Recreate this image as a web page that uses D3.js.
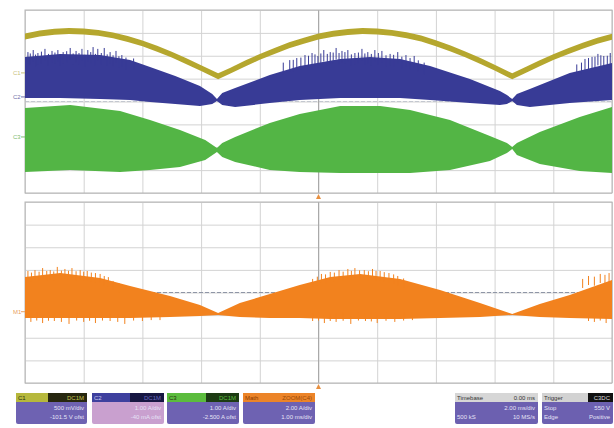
<!DOCTYPE html>
<html><head><meta charset="utf-8">
<script src="https://cdn.jsdelivr.net/npm/d3@7"></script>
<style>
body{margin:0;background:#fff;}
svg{display:block;font-family:"Liberation Sans",Arial,sans-serif;}
</style>
</head><body>
<svg id="chart" width="614" height="428"></svg>
<script>
// ---------- data (time in divisions, level in divisions) ----------
const c1Time  = [0,0.25,0.5,0.75,1,1.25,1.5,1.75,2,2.25,2.5,2.75,3,3.29,3.5,3.75,4,4.25,4.5,4.75,5,5.25,5.5,5.75,6,6.25,6.5,6.75,7,7.25,7.5,7.75,8,8.3,8.5,8.75,9,9.25,9.5,9.75,10];
const c1Level = [2.84,2.97,3.05,3.08,3.06,3.00,2.89,2.73,2.54,2.31,2.05,1.76,1.46,1.10,1.35,1.66,1.95,2.21,2.46,2.66,2.84,2.96,3.04,3.08,3.06,3.00,2.90,2.75,2.55,2.32,2.06,1.78,1.48,1.10,1.34,1.65,1.94,2.20,2.44,2.66,2.83];

const c2Time   = [0,0.60,1.28,1.79,2.13,2.56,2.98,3.19,3.27,3.36,3.58,4.17,4.68,5.37,5.88,6.39,6.90,7.58,8.09,8.21,8.30,8.38,8.60,9.28,10];
const c2Top    = [1.95,2.08,2.03,1.81,1.51,1.12,0.68,0.33,0.11,0.37,0.59,1.16,1.55,1.86,1.95,1.86,1.55,0.98,0.46,0.28,0.11,0.33,0.55,1.25,1.68];
const c2Bottom = [0.15,0.15,0.11,0.07,-0.02,-0.11,-0.20,-0.11,0.02,-0.15,-0.24,-0.07,0.07,0.15,0.15,0.15,0.07,-0.07,-0.15,-0.11,0.02,-0.15,-0.24,-0.07,0.07];
const c2SpikeTime  = [0.05,0.09,0.14,0.18,0.22,0.28,0.34,0.40,0.46,0.51,0.56,0.60,0.65,0.71,0.77,0.82,0.87,0.92,0.97,1.02,1.07,1.12,1.16,1.20,1.24,1.30,1.35,1.40,1.45,1.50,1.55,1.60,1.65,1.72,1.85,
                      4.40,4.51,4.57,4.63,4.70,4.77,4.83,4.89,4.94,4.99,5.04,5.09,5.15,5.20,5.25,5.30,5.35,5.40,5.45,5.50,5.56,5.62,5.68,5.74,5.79,5.84,5.90,5.96,6.02,6.08,6.15,6.22,6.28,6.35,6.42,6.49,6.56,6.63,6.70,6.80,
                      9.40,9.48,9.54,9.60,9.66,9.71,9.76,9.81,9.86,9.92,9.97];
const c2SpikeLevel = [2.16,2.10,2.25,2.05,2.12,2.18,2.30,2.08,2.21,2.14,2.25,2.06,2.16,2.20,2.34,2.10,2.21,2.12,2.30,2.04,2.25,2.16,2.38,2.08,2.30,2.12,2.34,2.06,2.16,2.02,2.21,1.98,2.03,1.92,1.88,
                      1.70,1.81,1.82,1.90,1.92,2.03,2.00,2.12,2.06,1.99,2.10,2.25,2.08,2.16,2.14,2.34,2.12,2.21,2.16,2.25,2.06,2.12,2.14,2.30,2.10,2.16,2.08,2.25,2.12,2.21,2.02,2.08,2.04,2.16,1.96,2.03,1.90,1.99,1.80,1.70,
                      1.62,1.70,1.86,1.90,1.95,1.96,2.08,2.02,1.99,2.00,2.12];

const c3Time   = [0,0.77,1.62,2.13,2.64,3.07,3.27,3.36,3.58,4.17,4.68,5.37,6.05,6.56,7.24,7.92,8.21,8.30,8.38,8.77,9.45,10];
const c3Top    = [-0.28,-0.15,-0.42,-0.81,-1.25,-1.68,-2.03,-1.81,-1.55,-0.94,-0.55,-0.20,-0.20,-0.37,-0.81,-1.51,-1.81,-1.99,-1.81,-1.33,-0.68,-0.24];
const c3Bottom = [-3.08,-2.99,-3.08,-2.99,-2.86,-2.56,-2.21,-2.43,-2.64,-2.99,-3.08,-3.13,-3.13,-3.13,-2.99,-2.60,-2.25,-2.08,-2.34,-2.73,-3.04,-3.13];

const m1Time   = [0,0.60,1.28,1.79,2.47,2.98,3.29,3.66,4.17,4.68,5.20,5.71,6.39,7.07,7.75,8.30,8.77,9.28,10];
const m1Top    = [0.69,0.86,0.64,0.29,-0.15,-0.55,-0.91,-0.46,-0.07,0.33,0.69,0.82,0.60,0.11,-0.46,-0.95,-0.51,-0.11,0.55];
const m1Bottom = [-1.13,-1.13,-1.13,-1.13,-1.08,-1.04,-0.99,-1.08,-1.13,-1.13,-1.17,-1.17,-1.17,-1.13,-1.08,-0.99,-1.08,-1.13,-1.17];
const m1UpTime   = [0.05,0.11,0.17,0.24,0.3,0.37,0.43,0.49,0.55,0.62,0.68,0.74,0.8,0.87,0.94,1.0,1.06,1.13,1.2,1.28,1.35,1.42,1.5,1.6,
                    4.9,4.98,5.05,5.12,5.2,5.27,5.35,5.42,5.5,5.56,5.62,5.7,5.78,5.85,5.92,5.98,6.05,6.12,6.2,6.28,6.35,6.45,
                    9.5,9.6,9.7,9.8,9.88,9.95];
const m1UpLevel  = [0.95,0.88,0.99,0.92,1.08,0.95,0.99,0.93,1.13,0.97,1.04,0.96,1.08,0.94,0.99,0.92,0.95,0.88,0.86,0.82,0.73,0.68,0.51,0.42,
                    0.60,0.70,0.82,0.80,0.91,0.88,0.99,0.92,1.04,0.96,1.08,0.98,0.99,0.94,1.04,0.95,0.95,0.90,0.86,0.80,0.73,0.62,
                    0.60,0.73,0.70,0.82,0.78,0.86];
const m1DownTime  = [0.1,0.2,0.3,0.4,0.5,0.62,0.75,0.88,1.0,1.1,1.2,1.32,1.45,1.58,1.7,1.85,2.0,2.15,2.3,
                     4.9,5.0,5.1,5.2,5.3,5.42,5.55,5.68,5.8,5.9,6.0,6.15,6.3,6.45,6.6,9.6,9.7,9.8,9.9];
const m1DownLevel = [-1.30,-1.24,-1.35,-1.25,-1.26,-1.30,-1.39,-1.24,-1.30,-1.25,-1.35,-1.24,-1.26,-1.30,-1.39,-1.24,-1.26,-1.22,-1.22,
                     -1.26,-1.24,-1.35,-1.26,-1.30,-1.25,-1.39,-1.24,-1.26,-1.28,-1.35,-1.25,-1.30,-1.24,-1.22,-1.26,-1.30,-1.24,-1.35];

const channelLabels = ["C1","C2","C3","M1"];
const channelOffsets = [1.25, 0.2, -1.55, -0.85];

const boxTitles = ["C1","C2","C3","Math","Timebase","Trigger"];
const boxTags   = ["DC1M","DC1M","DC1M","ZOOM(C4)","0.00 ms","C3DC"];
const boxLine1Left  = ["","","","","","Stop"];
const boxLine1Right = ["500 mV/div","1.00 A/div","1.00 A/div","2.00 A/div","2.00 ms/div","550 V"];
const boxLine2Left  = ["","","","","500 kS","Edge"];
const boxLine2Right = ["-101.5 V ofst","-40 mA ofst","-2.500 A ofst","1.00 ms/div","10 MS/s","Positive"];

// ---------- layout / styles ----------
const svg = d3.select("#chart");
const W = 614, H = 428;
const x = d3.scaleLinear().domain([0,10]).range([25,612]);
const yTop = d3.scaleLinear().domain([-4,4]).range([193,10]);
const yBot = d3.scaleLinear().domain([-4,4]).range([383,202]);
const col = {c1:"#b5a72e", c2:"#383b96", c3:"#53b545", m1:"#f2821e"};

svg.append("rect").attr("width",W).attr("height",H).attr("fill","#fff");

function graticule(y, centreColor){
  const g = svg.append("g");
  g.append("rect").attr("x",x(0)).attr("y",y(4)).attr("width",x(10)-x(0)).attr("height",y(-4)-y(4))
    .attr("fill","#fff");
  g.append("g").attr("transform",`translate(0,${y(-4)})`)
    .call(d3.axisBottom(x).ticks(10).tickSize(-(y(-4)-y(4))).tickFormat(""))
    .call(s=>{s.select(".domain").remove(); s.selectAll("line").attr("stroke","#d3d3d3");});
  g.append("g").attr("transform",`translate(${x(0)},0)`)
    .call(d3.axisLeft(y).ticks(8).tickSize(-(x(10)-x(0))).tickFormat(""))
    .call(s=>{s.select(".domain").remove(); s.selectAll("line").attr("stroke","#d3d3d3");});
  g.append("line").attr("x1",x(0)).attr("x2",x(10)).attr("y1",y(0)).attr("y2",y(0))
    .attr("stroke",centreColor).attr("stroke-dasharray","4,2");
  g.append("line").attr("x1",x(5)).attr("x2",x(5)).attr("y1",y(4)).attr("y2",y(-4))
    .attr("stroke","#a9a9a9");
  g.append("rect").attr("x",x(0)).attr("y",y(4)).attr("width",x(10)-x(0)).attr("height",y(-4)-y(4))
    .attr("fill","none").attr("stroke","#b5b5b5");
  return g;
}
graticule(yTop, "#c4c8d0");
graticule(yBot, "#8f96a6");

// ---------- traces ----------
function band(times, top, bottom, y, color){
  const data = times.map((t,i)=>({t, a:top[i], b:bottom[i]}));
  svg.append("path").datum(data)
    .attr("d", d3.area().x(d=>x(d.t)).y0(d=>y(d.b)).y1(d=>y(d.a)))
    .attr("fill", color);
}
function spikes(times, levels, y, len, color){
  svg.append("g").selectAll("line").data(times.map((t,i)=>({t,v:levels[i]})))
    .join("line")
    .attr("x1",d=>x(d.t)).attr("x2",d=>x(d.t))
    .attr("y1",d=>y(d.v)).attr("y2",d=>y(d.v-len))
    .attr("stroke",color).attr("stroke-width",1);
}

const c1Half = 0.13;
band(c1Time, c1Level.map(v=>v+c1Half), c1Level.map(v=>v-c1Half), yTop, col.c1);
band(c2Time, c2Top, c2Bottom, yTop, col.c2);
spikes(c2SpikeTime, c2SpikeLevel, yTop, 0.5, col.c2);
band(c3Time, c3Top, c3Bottom, yTop, col.c3);
band(m1Time, m1Top, m1Bottom, yBot, col.m1);
spikes(m1UpTime, m1UpLevel, yBot, 0.4, col.m1);
spikes(m1DownTime, m1DownLevel, yBot, -0.35, col.m1);

// channel labels
const labelColors = ["#c9c27a","#7070aa","#7dbb70","#e8a060"];
channelLabels.forEach((lab,i)=>{
  const y = i<3 ? yTop(channelOffsets[i]) : yBot(channelOffsets[i]);
  svg.append("text").attr("x",13).attr("y",y+2).attr("font-size",6).attr("fill",labelColors[i]).text(lab);
  svg.append("line").attr("x1",21).attr("x2",25).attr("y1",y).attr("y2",y).attr("stroke",labelColors[i]);
});

// trigger markers
[yTop(-4)+1, yBot(-4)+1].forEach(yy=>{
  svg.append("path").attr("d",`M${x(5)-2.5},${yy+5}L${x(5)},${yy}L${x(5)+2.5},${yy+5}Z`).attr("fill","#e89040");
});

// ---------- info boxes ----------
const boxX = [16,92,167,243,455,542];
const boxW = [71,72,72,72,83,71];
const headL = ["#b6b83c","#3e409e","#5bbc3d","#ec8428","#d6d6d6","#d2d2d2"];
const headR = ["#27270f","#171742","#1d3b13","#ec8428","#d6d6d6","#111111"];
const headRx = [48,130,206,243,455,588];
const tagCol = ["#c7c650","#6a6ac0","#5fbf40","#9a4a08","#333333","#dddddd"];
const bodyC = ["#6e62b2","#c9a0cf","#6e62b2","#6e62b2","#6c60b0","#6c60b0"];
const by = 393, bh = 31, hh = 9;
boxTitles.forEach((t,i)=>{
  const g = svg.append("g");
  g.append("rect").attr("x",boxX[i]).attr("y",by).attr("width",boxW[i]).attr("height",bh).attr("rx",2).attr("fill",bodyC[i]);
  g.append("rect").attr("x",boxX[i]).attr("y",by).attr("width",boxW[i]).attr("height",hh).attr("fill",headL[i]);
  g.append("rect").attr("x",headRx[i]).attr("y",by).attr("width",boxX[i]+boxW[i]-headRx[i]).attr("height",hh).attr("fill",headR[i]);
  const titleCol = i===0||i===2 ? "#2a3010" : (i===1 ? "#c8c8ee" : (i===3 ? "#8a3a00" : "#333"));
  g.append("text").attr("x",boxX[i]+2).attr("y",by+7).attr("font-size",6).attr("fill",titleCol).text(t);
  g.append("text").attr("x",boxX[i]+boxW[i]-3).attr("y",by+7).attr("font-size",6).attr("text-anchor","end").attr("fill",tagCol[i]).text(boxTags[i]);
  const tc = "#e6e2f6";
  g.append("text").attr("x",boxX[i]+2).attr("y",by+17).attr("font-size",6).attr("fill",tc).text(boxLine1Left[i]);
  g.append("text").attr("x",boxX[i]+boxW[i]-3).attr("y",by+17).attr("font-size",6).attr("text-anchor","end").attr("fill",tc).text(boxLine1Right[i]);
  g.append("text").attr("x",boxX[i]+2).attr("y",by+26).attr("font-size",6).attr("fill",tc).text(boxLine2Left[i]);
  g.append("text").attr("x",boxX[i]+boxW[i]-3).attr("y",by+26).attr("font-size",6).attr("text-anchor","end").attr("fill",tc).text(boxLine2Right[i]);
});
</script>
</body></html>
